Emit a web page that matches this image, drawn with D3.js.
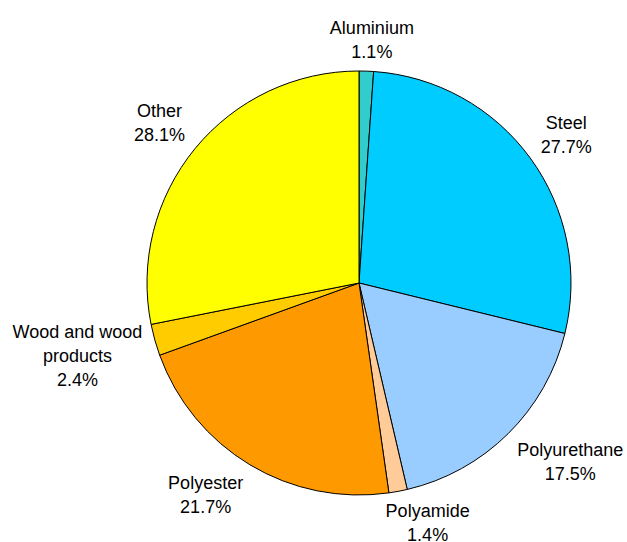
<!DOCTYPE html>
<html>
<head>
<meta charset="utf-8">
<script src="https://cdn.jsdelivr.net/npm/d3@7"></script>
<style>
  body { margin: 0; background: #fff; }
  svg { display: block; }
  text { font-family: "Liberation Sans", Arial, sans-serif; font-size: 18px; fill: #000; }
</style>
</head>
<body>
<svg id="chart" width="627" height="542"></svg>
<script>
// data, clockwise from 12 o'clock
const categories = ['Aluminium', 'Steel', 'Polyurethane', 'Polyamide', 'Polyester', 'Wood and wood products', 'Other'];
const labelLines = [['Aluminium'], ['Steel'], ['Polyurethane'], ['Polyamide'], ['Polyester'], ['Wood and wood', 'products'], ['Other']];
const shares = [1.1, 27.7, 17.5, 1.4, 21.7, 2.4, 28.1];
const colors = ['#33CCCC', '#00CCFF', '#99CCFF', '#FFCC99', '#FF9900', '#FFCC00', '#FFFF00'];

const cx = 359;
const cy = 283;
const radius = 212;
const labelRadius = 225;
const lineHeight = 24;
const capHeight = 13;

const svg = d3.select('#chart');
const g = svg.append('g').attr('transform', `translate(${cx},${cy})`);

const pie = d3.pie().sort(null).value(d => d.value);
const arc = d3.arc().innerRadius(0).outerRadius(radius);

const data = categories.map((c, i) => ({ name: c, value: shares[i], lines: labelLines[i], color: colors[i] }));
const arcs = pie(data);

g.selectAll('path.slice')
  .data(arcs)
  .enter().append('path')
  .attr('class', 'slice')
  .attr('d', arc)
  .attr('fill', d => d.data.color)
  .attr('stroke', '#000')
  .attr('stroke-width', 1)
  .attr('stroke-linejoin', 'round');

const clamp = v => Math.max(-1, Math.min(1, v));

// labels outside end, box pulled away from an anchor on the bisector
const labels = g.selectAll('text.label')
  .data(arcs)
  .enter().append('text')
  .attr('class', 'label')
  .attr('text-anchor', 'middle');

labels.each(function (d) {
  const t = d3.select(this);
  const lines = d.data.lines.concat([`${d.data.value.toFixed(1)}%`]);
  lines.forEach(l => t.append('tspan').text(l));

  let w = 0;
  t.selectAll('tspan').each(function () { w = Math.max(w, this.getComputedTextLength()); });
  const h = capHeight + lineHeight * (lines.length - 1);

  const a = (d.startAngle + d.endAngle) / 2;
  const s = Math.sin(a);
  const c = Math.cos(a);
  const ax = labelRadius * s;
  const ay = -labelRadius * c;
  const bx = ax + (w / 2) * clamp(3.5 * s);
  const by = ay - (h / 2) * clamp(1.5 * c);
  const top = by - h / 2;

  t.selectAll('tspan')
    .attr('x', bx)
    .attr('y', (l, i) => top + capHeight + i * lineHeight);
});
</script>
</body>
</html>
